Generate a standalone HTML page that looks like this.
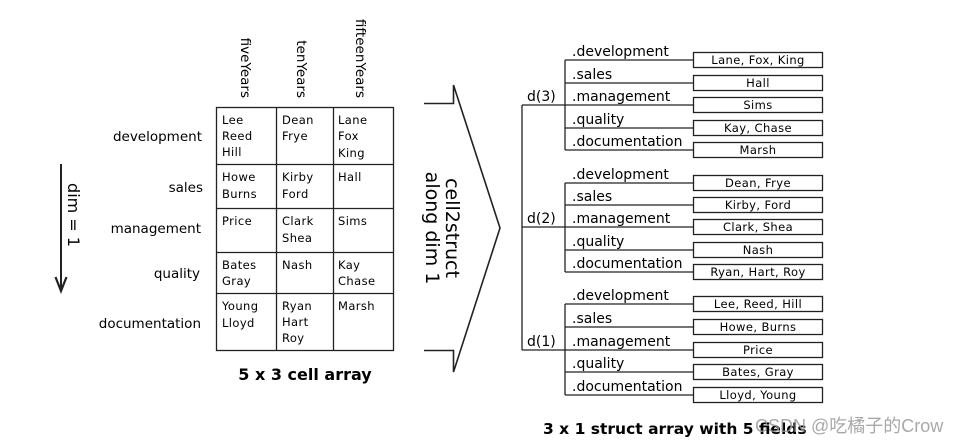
<!DOCTYPE html>
<html><head><meta charset="utf-8"><style>
html,body{margin:0;padding:0;background:#fff;}
svg{display:block;}
text{font-family:"DejaVu Sans","Liberation Sans",sans-serif;fill:#000;}
.s{font-size:13.5px;}
.c{font-size:11.5px;letter-spacing:0.4px;}
.f{font-size:14px;}
</style></head><body>
<svg width="963" height="445" viewBox="0 0 963 445" xmlns="http://www.w3.org/2000/svg">
<g stroke="#222" stroke-width="1.3" fill="none">
<rect x="216.5" y="107.5" width="177" height="243"/>
<line x1="276.5" y1="107" x2="276.5" y2="350"/>
<line x1="333.5" y1="107" x2="333.5" y2="350"/>
<line x1="216" y1="164.5" x2="394" y2="164.5"/>
<line x1="216" y1="208.5" x2="394" y2="208.5"/>
<line x1="216" y1="252.5" x2="394" y2="252.5"/>
<line x1="216" y1="293.5" x2="394" y2="293.5"/>
<line x1="61" y1="164" x2="61" y2="290" stroke-width="2"/>
<polyline points="55.5,277 61,291 66.5,277" stroke-width="2.2"/>
<polyline points="424,103.5 453.5,103.5 453.5,85 500,228 453.5,372 453.5,350.5 424,350.5" stroke-width="1.6"/>
<line x1="522" y1="105" x2="522" y2="350"/>
<line x1="522" y1="105" x2="565" y2="105"/>
<line x1="522" y1="227" x2="565" y2="227"/>
<line x1="522" y1="350" x2="565" y2="350"/>
<line x1="565" y1="60" x2="565" y2="150"/>
<line x1="565" y1="183" x2="565" y2="272"/>
<line x1="565" y1="304" x2="565" y2="395"/>
<path d="M565 60H693M565 83H693M565 105H693M565 128H693M565 150H693"/>
<path d="M565 183H693M565 205H693M565 227H693M565 250H693M565 272H693"/>
<path d="M565 304H693M565 327H693M565 350H693M565 372H693M565 395H693"/>
<rect x="693.5" y="52.5" width="129" height="15"/><rect x="693.5" y="75.5" width="129" height="15"/><rect x="693.5" y="97.5" width="129" height="15"/><rect x="693.5" y="120.5" width="129" height="15"/><rect x="693.5" y="142.5" width="129" height="15"/>
<rect x="693.5" y="175.5" width="129" height="15"/><rect x="693.5" y="197.5" width="129" height="15"/><rect x="693.5" y="219.5" width="129" height="15"/><rect x="693.5" y="242.5" width="129" height="15"/><rect x="693.5" y="264.5" width="129" height="15"/>
<rect x="693.5" y="296.5" width="129" height="15"/><rect x="693.5" y="319.5" width="129" height="15"/><rect x="693.5" y="342.5" width="129" height="15"/><rect x="693.5" y="364.5" width="129" height="15"/><rect x="693.5" y="387.5" width="129" height="15"/>
</g>
<text class="s" transform="translate(241,98) rotate(90)" text-anchor="end">fiveYears</text>
<text class="s" transform="translate(297,98) rotate(90)" text-anchor="end">tenYears</text>
<text class="s" transform="translate(356,98) rotate(90)" text-anchor="end">fifteenYears</text>
<g class="s" text-anchor="end">
<text x="202" y="141">development</text>
<text x="203" y="192">sales</text>
<text x="201" y="233">management</text>
<text x="200" y="278">quality</text>
<text x="201" y="328">documentation</text>
</g>
<g class="c">
<text x="222" y="124">Lee</text><text x="222" y="140">Reed</text><text x="222" y="156">Hill</text>
<text x="282" y="124">Dean</text><text x="282" y="140">Frye</text>
<text x="338" y="124">Lane</text><text x="338" y="140">Fox</text><text x="338" y="157">King</text>
<text x="222" y="181">Howe</text><text x="222" y="198">Burns</text>
<text x="282" y="181">Kirby</text><text x="282" y="198">Ford</text>
<text x="338" y="181">Hall</text>
<text x="222" y="225">Price</text>
<text x="282" y="225">Clark</text><text x="282" y="242">Shea</text>
<text x="338" y="225">Sims</text>
<text x="222" y="269">Bates</text><text x="222" y="285">Gray</text>
<text x="282" y="269">Nash</text>
<text x="338" y="269">Kay</text><text x="338" y="285">Chase</text>
<text x="222" y="310">Young</text><text x="222" y="327">Lloyd</text>
<text x="282" y="310">Ryan</text><text x="282" y="326">Hart</text><text x="282" y="342">Roy</text>
<text x="338" y="310">Marsh</text>
</g>
<text x="305" y="380" text-anchor="middle" style="font-size:16px;font-weight:bold">5 x 3 cell array</text>
<text transform="translate(68,215) rotate(90)" text-anchor="middle" style="font-size:16px">dim = 1</text>
<text transform="translate(446,228) rotate(90)" text-anchor="middle" style="font-size:19px">cell2struct</text>
<text transform="translate(426,228) rotate(90)" text-anchor="middle" style="font-size:19px">along dim 1</text>
<g class="f">
<text x="527" y="101">d(3)</text><text x="527" y="223">d(2)</text><text x="527" y="346">d(1)</text>
<text x="572" y="56">.development</text><text x="572" y="79">.sales</text><text x="572" y="101">.management</text><text x="572" y="124">.quality</text><text x="572" y="146">.documentation</text>
<text x="572" y="179">.development</text><text x="572" y="201">.sales</text><text x="572" y="223">.management</text><text x="572" y="246">.quality</text><text x="572" y="268">.documentation</text>
<text x="572" y="300">.development</text><text x="572" y="323">.sales</text><text x="572" y="346">.management</text><text x="572" y="368">.quality</text><text x="572" y="391">.documentation</text>
</g>
<g class="c" text-anchor="middle">
<text x="758" y="64">Lane, Fox, King</text><text x="758" y="87">Hall</text><text x="758" y="109">Sims</text><text x="758" y="132">Kay, Chase</text><text x="758" y="154">Marsh</text>
<text x="758" y="187">Dean, Frye</text><text x="758" y="209">Kirby, Ford</text><text x="758" y="231">Clark, Shea</text><text x="758" y="254">Nash</text><text x="758" y="276">Ryan, Hart, Roy</text>
<text x="758" y="308">Lee, Reed, Hill</text><text x="758" y="331">Howe, Burns</text><text x="758" y="354">Price</text><text x="758" y="376">Bates, Gray</text><text x="758" y="399">Lloyd, Young</text>
</g>
<text x="543" y="434" style="font-size:15.5px;font-weight:bold">3 x 1 struct array with 5 fields</text>
<text x="755" y="432" style="font-family:'Liberation Sans','Noto Sans CJK SC',sans-serif;font-size:18px;fill:#9a9a9a;opacity:0.85">CSDN @吃橘子的Crow</text>
</svg>
</body></html>
